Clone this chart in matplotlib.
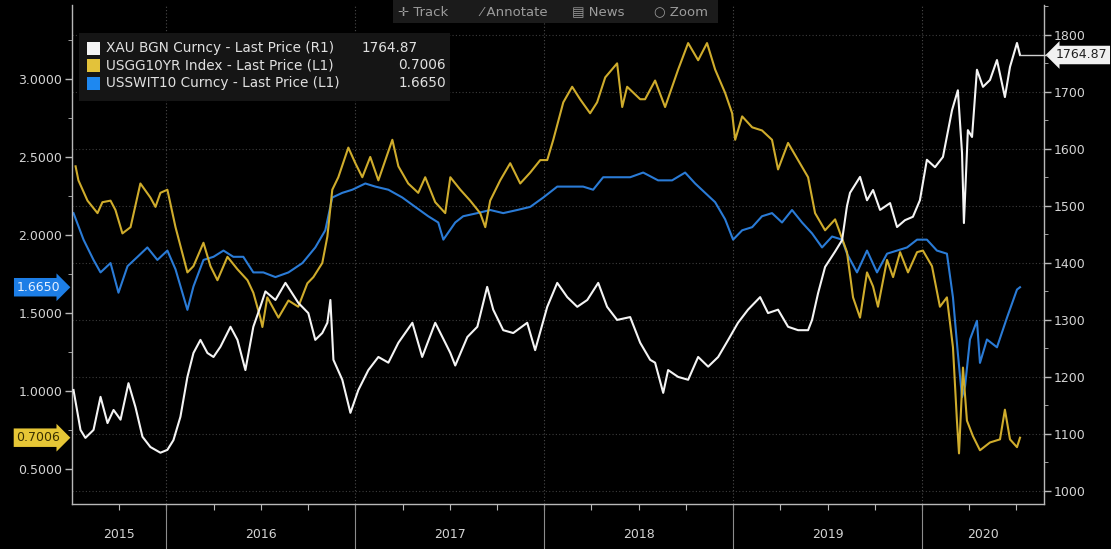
import matplotlib
matplotlib.use('Agg')
import matplotlib.pyplot as plt
from matplotlib.patches import Rectangle
from matplotlib.transforms import blended_transform_factory as blend
from matplotlib.ticker import MultipleLocator, FormatStrFormatter, FixedLocator, NullFormatter

# --- data (time in decimal years) ---
gold_t = [2015.508, 2015.545, 2015.571, 2015.614, 2015.651, 2015.688, 2015.720, 2015.757, 2015.799,
          2015.836, 2015.873, 2015.915, 2015.968, 2016.005, 2016.037, 2016.074, 2016.111, 2016.143,
          2016.180, 2016.217, 2016.249, 2016.286, 2016.339, 2016.376, 2016.418, 2016.460, 2016.497,
          2016.524, 2016.577, 2016.630, 2016.698, 2016.751, 2016.788, 2016.825, 2016.852, 2016.868,
          2016.884, 2016.931, 2016.974, 2017.016, 2017.069, 2017.122, 2017.175, 2017.228, 2017.302,
          2017.354, 2017.423, 2017.476, 2017.503, 2017.529, 2017.593, 2017.646, 2017.698, 2017.730,
          2017.783, 2017.836, 2017.910, 2017.952, 2018.016, 2018.069, 2018.122, 2018.175, 2018.228,
          2018.286, 2018.333, 2018.386, 2018.455, 2018.508, 2018.561, 2018.587, 2018.630, 2018.656,
          2018.709, 2018.762, 2018.815, 2018.868, 2018.921, 2018.974, 2019.026, 2019.079, 2019.143,
          2019.185, 2019.238, 2019.291, 2019.344, 2019.397, 2019.418, 2019.450, 2019.487, 2019.540,
          2019.577, 2019.603, 2019.619, 2019.672, 2019.709, 2019.741, 2019.778, 2019.831, 2019.868,
          2019.910, 2019.952, 2019.989, 2020.026, 2020.069, 2020.111, 2020.159, 2020.190, 2020.212,
          2020.222, 2020.243, 2020.265, 2020.291, 2020.323, 2020.360, 2020.397, 2020.439, 2020.466,
          2020.503, 2020.519]
gold = [1177, 1107, 1093, 1107, 1165, 1119, 1142, 1125, 1189,
        1147, 1095, 1077, 1067, 1072, 1089, 1130, 1200, 1242,
        1265, 1242, 1235, 1253, 1288, 1265, 1212, 1288, 1323,
        1350, 1335, 1365, 1330, 1312, 1265, 1277, 1295, 1335,
        1230, 1195, 1137, 1177, 1212, 1235, 1225, 1260, 1295,
        1235, 1295, 1260, 1242, 1220, 1270, 1288, 1358, 1318,
        1282, 1277, 1295, 1247, 1323, 1365, 1340, 1323, 1335,
        1365, 1323, 1300, 1305, 1260, 1230, 1225, 1172, 1212,
        1200, 1195, 1235, 1218, 1235, 1265, 1295, 1318, 1340,
        1312, 1318, 1288, 1282, 1282, 1300, 1347, 1393, 1420,
        1440, 1500, 1523, 1551, 1510, 1528, 1493, 1505, 1463,
        1475, 1481, 1510, 1581, 1568, 1586, 1668, 1703, 1593,
        1470, 1633, 1621, 1739, 1709, 1721, 1756, 1691, 1744,
        1786, 1764.87]

ust_t = [2015.519, 2015.534, 2015.582, 2015.635, 2015.661, 2015.704, 2015.730, 2015.767, 2015.810,
         2015.862, 2015.915, 2015.942, 2015.968, 2016.005, 2016.048, 2016.111, 2016.143, 2016.196,
         2016.233, 2016.270, 2016.323, 2016.376, 2016.429, 2016.460, 2016.497, 2016.508, 2016.534,
         2016.593, 2016.646, 2016.698, 2016.746, 2016.778, 2016.825, 2016.852, 2016.878, 2016.910,
         2016.963, 2017.000, 2017.037, 2017.079, 2017.122, 2017.196, 2017.228, 2017.280, 2017.333,
         2017.370, 2017.423, 2017.476, 2017.503, 2017.556, 2017.608, 2017.661, 2017.688, 2017.714,
         2017.767, 2017.820, 2017.873, 2017.926, 2017.979, 2018.016, 2018.048, 2018.101, 2018.148,
         2018.190, 2018.243, 2018.280, 2018.323, 2018.386, 2018.413, 2018.439, 2018.508, 2018.534,
         2018.587, 2018.640, 2018.709, 2018.762, 2018.815, 2018.862, 2018.905, 2018.958, 2018.995,
         2019.011, 2019.048, 2019.101, 2019.153, 2019.206, 2019.238, 2019.291, 2019.344, 2019.397,
         2019.434, 2019.487, 2019.540, 2019.603, 2019.635, 2019.672, 2019.709, 2019.741, 2019.767,
         2019.815, 2019.847, 2019.884, 2019.926, 2019.974, 2020.005, 2020.053, 2020.095, 2020.132,
         2020.164, 2020.185, 2020.196, 2020.217, 2020.238, 2020.270, 2020.307, 2020.360, 2020.413,
         2020.439, 2020.466, 2020.503, 2020.519]
ust = [2.44, 2.35, 2.22, 2.14, 2.21, 2.22, 2.16, 2.01, 2.05,
       2.33, 2.24, 2.18, 2.27, 2.29, 2.05, 1.76, 1.80, 1.95,
       1.80, 1.71, 1.86, 1.78, 1.71, 1.63, 1.47, 1.41, 1.60,
       1.47, 1.58, 1.54, 1.69, 1.73, 1.82, 1.99, 2.29, 2.37,
       2.56, 2.46, 2.37, 2.50, 2.35, 2.61, 2.44, 2.33, 2.27,
       2.37, 2.21, 2.14, 2.37, 2.29, 2.22, 2.14, 2.05, 2.22,
       2.35, 2.46, 2.33, 2.40, 2.48, 2.48, 2.61, 2.85, 2.95,
       2.87, 2.78, 2.85, 3.01, 3.10, 2.82, 2.95, 2.87, 2.87,
       2.99, 2.82, 3.06, 3.23, 3.12, 3.23, 3.06, 2.91, 2.78,
       2.61, 2.76, 2.69, 2.67, 2.61, 2.42, 2.59, 2.48, 2.37,
       2.14, 2.03, 2.10, 1.89, 1.60, 1.47, 1.76, 1.67, 1.54,
       1.84, 1.73, 1.89, 1.76, 1.89, 1.90, 1.80, 1.54, 1.60,
       1.28, 0.81, 0.60, 1.15, 0.81, 0.71, 0.62, 0.67, 0.69,
       0.88, 0.69, 0.64, 0.7006]

swit_t = [2015.508, 2015.561, 2015.614, 2015.651, 2015.704, 2015.746, 2015.794, 2015.847, 2015.899,
          2015.952, 2016.005, 2016.048, 2016.111, 2016.143, 2016.196, 2016.249, 2016.302, 2016.354,
          2016.407, 2016.460, 2016.513, 2016.577, 2016.646, 2016.720, 2016.788, 2016.841, 2016.878,
          2016.931, 2016.984, 2017.053, 2017.106, 2017.175, 2017.249, 2017.317, 2017.386, 2017.439,
          2017.466, 2017.529, 2017.571, 2017.646, 2017.714, 2017.783, 2017.857, 2017.926, 2017.995,
          2018.069, 2018.138, 2018.206, 2018.259, 2018.312, 2018.386, 2018.455, 2018.524, 2018.603,
          2018.677, 2018.746, 2018.799, 2018.852, 2018.905, 2018.958, 2019.000, 2019.048, 2019.101,
          2019.153, 2019.206, 2019.259, 2019.312, 2019.365, 2019.418, 2019.471, 2019.524, 2019.577,
          2019.603, 2019.656, 2019.709, 2019.762, 2019.815, 2019.868, 2019.921, 2019.974, 2020.026,
          2020.079, 2020.132, 2020.164, 2020.190, 2020.212, 2020.228, 2020.254, 2020.291, 2020.307,
          2020.344, 2020.397, 2020.450, 2020.503, 2020.519]
swit = [2.14, 1.97, 1.84, 1.76, 1.82, 1.63, 1.80, 1.86, 1.92,
        1.84, 1.90, 1.78, 1.52, 1.67, 1.84, 1.86, 1.90, 1.86,
        1.86, 1.76, 1.76, 1.73, 1.76, 1.82, 1.92, 2.03, 2.24,
        2.27, 2.29, 2.33, 2.31, 2.29, 2.24, 2.18, 2.12, 2.08,
        1.97, 2.08, 2.12, 2.14, 2.16, 2.14, 2.16, 2.18, 2.24,
        2.31, 2.31, 2.31, 2.29, 2.37, 2.37, 2.37, 2.40, 2.35,
        2.35, 2.40, 2.33, 2.27, 2.21, 2.10, 1.97, 2.03, 2.05,
        2.12, 2.14, 2.08, 2.16, 2.08, 2.01, 1.92, 1.99, 1.97,
        1.88, 1.76, 1.90, 1.76, 1.88, 1.90, 1.92, 1.97, 1.97,
        1.90, 1.88, 1.60, 1.24, 0.96, 1.03, 1.33, 1.45, 1.18,
        1.33, 1.28, 1.47, 1.65, 1.665]

years = [2015, 2016, 2017, 2018, 2019, 2020]
legend_names = ['XAU BGN Curncy - Last Price (R1)',
                'USGG10YR Index - Last Price (L1)',
                'USSWIT10 Curncy - Last Price (L1)']
legend_values = ['1764.87', '0.7006', '1.6650']

WHITE = '#f4f4f4'
YELLOW = '#cfac2c'
BLUE = '#2a7bd6'
GREY = '#b8b8b8'
TXT = '#d4d4d4'

W, H = 1111, 549


def fx(x):
    return x / W


def fy(y):
    return 1 - y / H


fig = plt.figure(figsize=(W / 100, H / 100), dpi=100, facecolor='black')
ax = fig.add_axes([fx(72), 45 / H, 972 / W, 499 / H])
ax.set_facecolor('black')
ax2 = ax.twinx()

x0, x1 = 2015.50, 2020.646
ax.set_xlim(x0, x1)
ax.set_ylim(0.2756, 3.474)
ax2.set_ylim(977, 1852.6)

# grid
for yr in years[1:]:
    ax.axvline(yr, color='#4a4a4a', lw=0.8, ls=(0, (1, 2)), zorder=0)
for v in range(1000, 1801, 100):
    ax.axhline(0.2756 + (v - 977) / (1852.6 - 977) * (3.474 - 0.2756),
               color='#3c3c3c', lw=0.8, ls=(0, (1, 2)), zorder=0)

ax.plot(swit_t, swit, color=BLUE, lw=1.5, zorder=2)
ax.plot(ust_t, ust, color=YELLOW, lw=1.5, zorder=3)
ax2.plot(gold_t, gold, color=WHITE, lw=1.5, zorder=3)

# spines
for a in (ax, ax2):
    for s in a.spines.values():
        s.set_visible(False)
ax.spines['left'].set_visible(True)
ax.spines['bottom'].set_visible(True)
ax2.spines['right'].set_visible(True)
for s in (ax.spines['left'], ax.spines['bottom'], ax2.spines['right']):
    s.set_color(GREY)
    s.set_linewidth(1.0)

# y ticks
ax.yaxis.set_major_locator(MultipleLocator(0.5))
ax.yaxis.set_minor_locator(MultipleLocator(0.25))
ax.yaxis.set_major_formatter(FormatStrFormatter('%.4f'))
ax.tick_params(axis='y', which='major', colors=GREY, labelcolor=TXT, labelsize=9, length=5, width=1, pad=2)
ax.tick_params(axis='y', which='minor', colors=GREY, length=3)

ax2.yaxis.set_major_locator(MultipleLocator(100))
ax2.yaxis.set_minor_locator(MultipleLocator(50))
ax2.tick_params(axis='y', which='major', colors=GREY, labelcolor=TXT, labelsize=9, length=5, width=1, pad=2)
ax2.tick_params(axis='y', which='minor', colors=GREY, length=3)

# x ticks: quarter marks, year labels in the middle of each year
ax.xaxis.set_major_locator(FixedLocator([]))
ax.xaxis.set_minor_locator(FixedLocator([y + q / 4 for y in years for q in range(4)
                                         if x0 < y + q / 4 < x1]))
ax.xaxis.set_minor_formatter(NullFormatter())
ax.tick_params(axis='x', which='minor', colors=GREY, length=4, width=0.8)

tb = blend(ax.transData, ax.transAxes)
for yr in years[1:]:
    ax.plot([yr, yr], [0, -0.1], transform=tb, color='#8c8c8c', lw=0.8, clip_on=False)
for yr in years:
    mid = (max(yr, x0) + min(yr + 1, x1)) / 2
    ax.text(mid, -0.062, str(yr), transform=tb, ha='center', va='center', color=TXT, fontsize=9)

# last value tags
tl = blend(ax.transAxes, ax.transData)
ax.text(-0.012, swit[-1], '%.4f' % swit[-1], transform=tl, ha='right', va='center', fontsize=9,
        color='#e6f0ff', bbox=dict(boxstyle='rarrow,pad=0.22', fc='#1d7ee6', ec='none'))
ax.text(-0.012, ust[-1], '%.4f' % ust[-1], transform=tl, ha='right', va='center', fontsize=9,
        color='#3a3000', bbox=dict(boxstyle='rarrow,pad=0.22', fc='#e6c636', ec='none'))
ax2.plot([gold_t[-1], 2020.66], [gold[-1], gold[-1]], color='#d0d0d0', lw=1, clip_on=False, zorder=4)
tr = blend(ax2.transAxes, ax2.transData)
ax2.text(1.012, gold[-1], '%.2f' % gold[-1], transform=tr, ha='left', va='center', fontsize=9,
         color='#202020', bbox=dict(boxstyle='larrow,pad=0.22', fc='#f0f0f0', ec='none'))

# legend box
fig.add_artist(Rectangle((fx(79), fy(101)), 371 / W, 68 / H, transform=fig.transFigure,
                         fc='#151515', ec='none', zorder=5))
for i, (name, val, col) in enumerate(zip(legend_names, legend_values, [WHITE, '#e3c23a', '#1e88f0'])):
    yc = 48 + i * 17.5
    fig.add_artist(Rectangle((fx(87), fy(yc + 6.5)), 13 / W, 13 / H, transform=fig.transFigure,
                             fc=col, ec='none', zorder=6))
    fig.text(fx(106), fy(yc), name, ha='left', va='center', color='#e0e0e0', fontsize=9.8, zorder=6)
    xr = 418 if i == 0 else 446
    fig.text(fx(xr), fy(yc), val, ha='right', va='center', color='#e0e0e0', fontsize=9.8, zorder=6)

# toolbar
fig.add_artist(Rectangle((fx(393), fy(23)), 325 / W, 23 / H, transform=fig.transFigure,
                         fc='#1b1b1b', ec='none', zorder=5))
for label, xp in [('\u271b Track', 398), ('\u2044 Annotate', 480), ('\u25a4 News', 572), ('\u25cb Zoom', 654)]:
    fig.text(fx(xp), fy(12), label, ha='left', va='center', color='#9c9c9c', fontsize=9.5, zorder=6)

fig.savefig('out.png', dpi=100, facecolor='black')
